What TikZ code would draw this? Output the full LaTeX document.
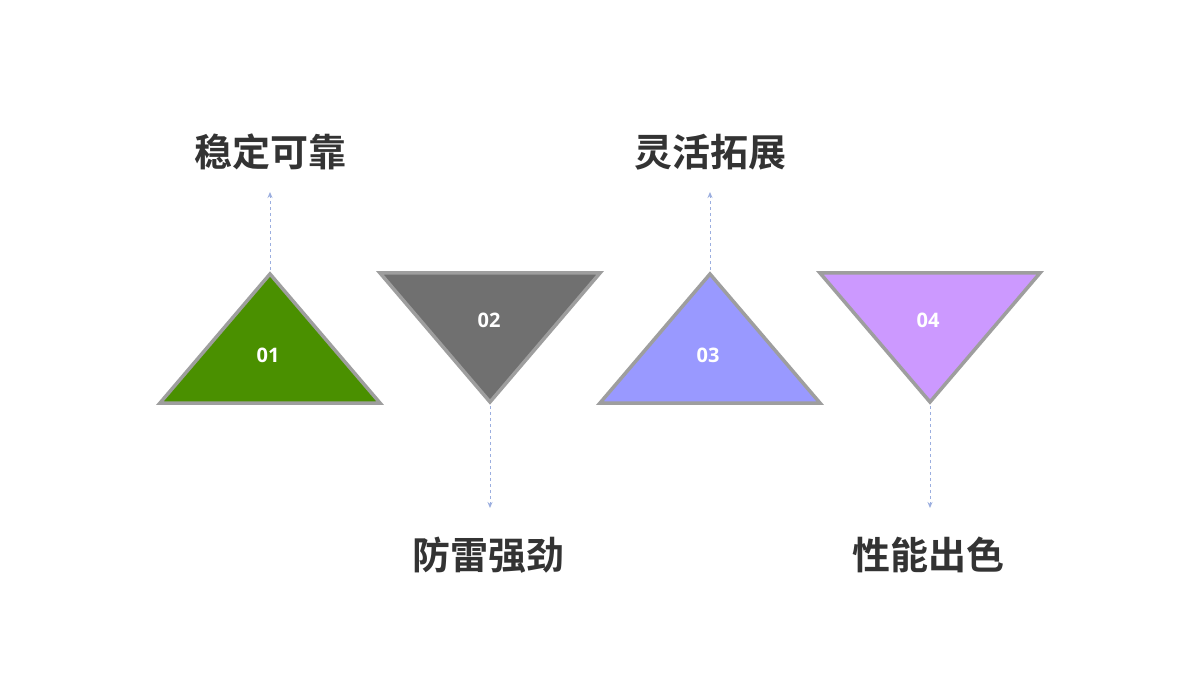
\documentclass[tikz,border=0pt]{standalone}
\usepackage{fontspec}
\usetikzlibrary{arrows.meta}
\newfontfamily\cjk{Noto Sans CJK SC Bold}
\newfontfamily\num{Open Sans Bold}
\begin{document}
\begin{tikzpicture}[x=1pt,y=-1pt,
  tri/.style={draw=black!38,line width=3.5pt,line join=miter},
  conn/.style={draw=cyan!40!blue!40,dashed,line width=1pt,-{Stealth[length=6pt,width=5pt]}},
  lab/.style={font=\cjk\fontsize{38}{40}\selectfont,text=black!80},
  numl/.style={font=\num\fontsize{20}{22}\selectfont,text=white}]
\useasboundingbox (0,0) rectangle (1200,676);
\fill[white] (0,0) rectangle (1200,676);
\filldraw[tri,fill={rgb,255:red,74;green,144;blue,0}] (270,274) -- (380,403) -- (160,403) -- cycle;
\filldraw[tri,fill={rgb,255:red,112;green,112;blue,112}] (380,273) -- (600,273) -- (490,402) -- cycle;
\filldraw[tri,fill={rgb,255:red,153;green,153;blue,255}] (710,274) -- (820,403) -- (600,403) -- cycle;
\filldraw[tri,fill={rgb,255:red,204;green,153;blue,255}] (820,273) -- (1040,273) -- (930,402) -- cycle;
\node[numl] (n1) at (268,355) {01};
\node[numl] (n2) at (489,320) {02};
\node[numl] (n3) at (708,355) {03};
\node[numl] (n4) at (928,320) {04};
\coordinate (a1) at (270,270); \coordinate (a2) at (490,406);
\coordinate (a3) at (710,270); \coordinate (a4) at (930,406);
\node[lab] (t1) at (270,152) {稳定可靠};
\node[lab] (t2) at (488,555) {防雷强劲};
\node[lab] (t3) at (710,152) {灵活拓展};
\node[lab] (t4) at (928,555) {性能出色};
\draw[conn] (a1) -- (270,192);
\draw[conn] (a2) -- (490,508);
\draw[conn] (a3) -- (710,192);
\draw[conn] (a4) -- (930,508);
\end{tikzpicture}
\end{document}
